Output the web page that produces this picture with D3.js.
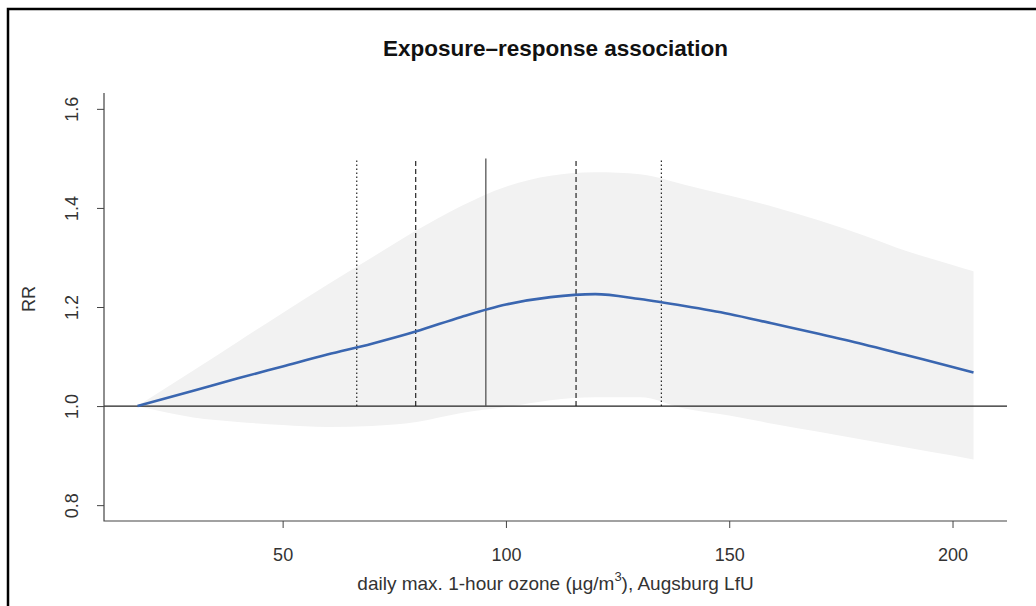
<!DOCTYPE html>
<html>
<head>
<meta charset="utf-8">
<script src="https://cdn.jsdelivr.net/npm/d3@7"></script>
<style>
  body { margin: 0; background: #fff; }
  text { font-family: "Liberation Sans", Arial, sans-serif; }
</style>
</head>
<body>
<script>
// ozone levels (µg/m3) where the curve was read
var ozone = [17.5, 30, 40, 50, 60, 70, 80, 90, 100, 110, 120, 130, 140, 150, 160, 170, 180, 190, 200, 204.7];
// relative risk, central estimate
var rr = [1.000, 1.031, 1.056, 1.080, 1.104, 1.126, 1.151, 1.180, 1.205, 1.220, 1.226, 1.216, 1.202, 1.186, 1.166, 1.146, 1.125, 1.102, 1.079, 1.068];
// 95% confidence band
var rrHigh = [1.000, 1.072, 1.130, 1.188, 1.245, 1.300, 1.355, 1.404, 1.443, 1.465, 1.472, 1.468, 1.447, 1.425, 1.402, 1.375, 1.345, 1.312, 1.285, 1.272];
var rrLow = [1.000, 0.977, 0.968, 0.962, 0.958, 0.960, 0.968, 0.986, 0.998, 1.012, 1.018, 1.018, 0.995, 0.981, 0.964, 0.948, 0.932, 0.916, 0.900, 0.892];

// percentile markers
var markerX = [66.6, 79.8, 95.5, 115.7, 134.8];
var markerType = ['dotted', 'dashed', 'solid', 'dashed', 'dotted'];
var markerTop = 1.5;

var xTicks = [50, 100, 150, 200];
var yTicks = [0.8, 1.0, 1.2, 1.4, 1.6];

var width = 1036, height = 606;
var plot = { left: 104, right: 1007, top: 93, bottom: 521 };

var svg = d3.select('body').append('svg')
    .attr('width', width)
    .attr('height', height);

// outer frame
svg.append('rect')
    .attr('x', 8).attr('y', 9)
    .attr('width', 1040).attr('height', 610)
    .attr('fill', 'none')
    .attr('stroke', '#000')
    .attr('stroke-width', 2.5);

var x = d3.scaleLinear().domain([10.0, 212.2]).range([plot.left, plot.right]);
var y = d3.scaleLinear().domain([0.768, 1.632]).range([plot.bottom, plot.top]);

var pts = ozone.map(function (d, i) {
    return { x: d, rr: rr[i], hi: rrHigh[i], lo: rrLow[i] };
});

// confidence band
var band = d3.area()
    .x(function (d) { return x(d.x); })
    .y0(function (d) { return y(d.lo); })
    .y1(function (d) { return y(d.hi); })
    .curve(d3.curveMonotoneX);

svg.append('path')
    .datum(pts)
    .attr('d', band)
    .attr('fill', '#f2f2f2');

// reference line at RR = 1
svg.append('line')
    .attr('x1', plot.left).attr('x2', plot.right)
    .attr('y1', y(1)).attr('y2', y(1))
    .attr('stroke', '#222')
    .attr('stroke-width', 1.2);

// vertical markers
var dash = { dotted: '1.5,2.5', dashed: '5,3', solid: null };
svg.selectAll('.marker')
    .data(markerX)
    .enter().append('line')
    .attr('class', 'marker')
    .attr('x1', function (d) { return x(d); })
    .attr('x2', function (d) { return x(d); })
    .attr('y1', y(1))
    .attr('y2', y(markerTop))
    .attr('stroke', function (d, i) { return markerType[i] === 'solid' ? '#555' : '#111'; })
    .attr('stroke-width', function (d, i) { return markerType[i] === 'solid' ? 1.3 : 1.1; })
    .attr('stroke-dasharray', function (d, i) { return dash[markerType[i]]; });

// central estimate
var line = d3.line()
    .x(function (d) { return x(d.x); })
    .y(function (d) { return y(d.rr); })
    .curve(d3.curveMonotoneX);

svg.append('path')
    .datum(pts)
    .attr('d', line)
    .attr('fill', 'none')
    .attr('stroke', '#3a66b0')
    .attr('stroke-width', 2.6);

// axes
var xAxis = svg.append('g')
    .attr('transform', 'translate(0,' + plot.bottom + ')')
    .call(d3.axisBottom(x).tickValues(xTicks).tickSize(7).tickPadding(20).tickFormat(d3.format('d')));

var yAxis = svg.append('g')
    .attr('transform', 'translate(' + plot.left + ',0)')
    .call(d3.axisLeft(y).tickValues(yTicks).tickSize(7).tickFormat(d3.format('.1f')));

[xAxis, yAxis].forEach(function (g) {
    g.select('.domain').remove();
    g.selectAll('line').attr('stroke', '#444');
    g.selectAll('text')
        .attr('fill', '#333')
        .style('font-size', '18px')
        .style('font-family', '"Liberation Sans", Arial, sans-serif');
});

// rotated y labels, like R's default las = 0
yAxis.selectAll('text')
    .attr('x', null)
    .attr('text-anchor', 'middle')
    .attr('transform', 'translate(-32,0) rotate(-90)')
    .attr('dy', '0.35em');

// L-shaped box
svg.append('path')
    .attr('d', 'M' + plot.left + ',' + plot.top + 'V' + plot.bottom + 'H' + plot.right)
    .attr('fill', 'none')
    .attr('stroke', '#444')
    .attr('stroke-width', 1.2);

// title
svg.append('text')
    .attr('x', (plot.left + plot.right) / 2)
    .attr('y', 56)
    .attr('text-anchor', 'middle')
    .style('font-size', '22.5px')
    .style('font-weight', 'bold')
    .attr('fill', '#111')
    .text('Exposure\u2013response association');

// axis titles
var xl = svg.append('text')
    .attr('x', (plot.left + plot.right) / 2)
    .attr('y', 590)
    .attr('text-anchor', 'middle')
    .style('font-size', '19px')
    .attr('fill', '#333');
xl.append('tspan').text('daily max. 1-hour ozone (\u00b5g/m');
xl.append('tspan').attr('dy', -9).style('font-size', '13px').text('3');
xl.append('tspan').attr('dy', 9).text('), Augsburg LfU');

svg.append('text')
    .attr('transform', 'translate(35,' + ((plot.top + plot.bottom) / 2 - 8) + ') rotate(-90)')
    .attr('text-anchor', 'middle')
    .style('font-size', '18px')
    .attr('fill', '#333')
    .text('RR');
</script>
</body>
</html>
